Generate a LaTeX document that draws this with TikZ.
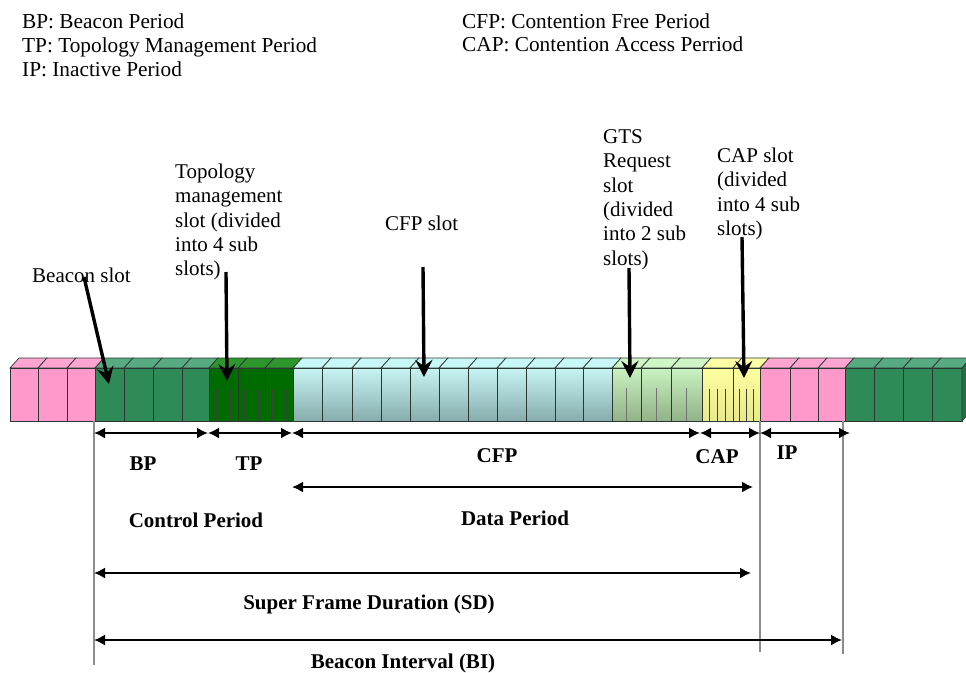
\documentclass[tikz,border=0pt]{standalone}
\usepackage{fontspec}
\setmainfont{Liberation Serif}
\usetikzlibrary{arrows.meta}
\definecolor{pinkc}{RGB}{255,153,204}
\definecolor{pinkt}{RGB}{255,165,210}
\definecolor{grnf}{RGB}{46,139,87}
\definecolor{grnt}{RGB}{88,170,128}
\definecolor{dgf}{RGB}{0,108,0}
\definecolor{dgt}{RGB}{45,150,45}
\definecolor{cyt}{RGB}{200,248,248}
\definecolor{cyA}{RGB}{200,244,244}
\definecolor{cyB}{RGB}{135,172,172}
\definecolor{gtA}{RGB}{202,242,192}
\definecolor{gtB}{RGB}{145,178,135}
\definecolor{gtt}{RGB}{208,245,198}
\definecolor{ylA}{RGB}{255,255,160}
\definecolor{ylB}{RGB}{232,232,140}
\definecolor{ylt}{RGB}{255,255,165}
\definecolor{slotln}{RGB}{45,55,50}
\newcommand\slotrow[3]{%
  \foreach \a/\b in {#1} {%
    \fill[#3, draw=slotln, line width=0.7pt] (\a,368) -- (\a+9,358) -- (\b+9,358) -- (\b,368) -- cycle;
    \path[#2, draw=slotln, line width=0.7pt] (\a,368) rectangle (\b,421);
  }%
}
\begin{document}
\begin{tikzpicture}[x=1pt,y=-1pt,
  lbl/.style={font=\fontsize{21}{24.3}\selectfont, inner sep=0pt, align=left, anchor=north west},
  blbl/.style={font=\fontsize{21}{24}\selectfont\bfseries, inner sep=0pt, anchor=base},
  dimarrow/.style={{Latex[length=11pt,width=11pt]}-{Latex[length=11pt,width=11pt]}, line width=1.8pt},
  ptr/.style={-{Stealth[length=17pt,width=17pt,inset=6pt]}, line width=3.4pt},
  gline/.style={draw=black!45, line width=1.2pt},
  subln/.style={draw=black!75, line width=0.9pt}]
\useasboundingbox (0,0) rectangle (966,672);
\fill[white] (0,0) rectangle (966,672);

% legend
\node[lbl, font=\fontsize{21.3}{24}\selectfont] (legL) at (22,13.7) {BP: Beacon Period\\TP: Topology Management Period\\IP: Inactive Period};
\node[lbl, font=\fontsize{21.3}{23.2}\selectfont] (legR) at (462,13.7) {CFP: Contention Free Period\\CAP: Contention Access Perriod};

% slot bar
\slotrow{10/38,38/67,67/95}{fill=pinkc}{pinkt}
\slotrow{95/124,124/153,153/182,182/209}{fill=grnf}{grnt}
\slotrow{209/238,238/265,265/293}{fill=dgf}{dgt}
\slotrow{293/322,322/352,352/381,381/410,410/439,439/468,468/497,497/526,526/555,555/583,583/612}{top color=cyA,bottom color=cyB}{cyt}
\slotrow{612/641,641/671,671/702}{top color=gtA,bottom color=gtB}{gtt}
\slotrow{702/733,733/760}{top color=ylA,bottom color=ylB}{ylt}
\slotrow{760/790,790/818,818/845}{fill=pinkc}{pinkt}
\slotrow{845/874,874/903,903/932,932/962}{fill=grnf}{grnt}
\fill[grnf!80!black, draw=slotln, line width=0.7pt] (962,368) -- (971,358) -- (971,411) -- (962,421) -- cycle;
\draw[slotln, line width=1pt] (10,421) -- (962,421);

% sub slot lines
\foreach \a/\b in {209/238,238/265,265/293,702/733,733/760}
  \foreach \k in {1,2,3}
    \draw[subln] ({\a+\k*(\b-\a)/4},389) -- ({\a+\k*(\b-\a)/4},421);
\foreach \a/\b in {612/641,641/671,671/702}
  \draw[subln, draw=black!55] ({(\a+\b)/2},388) -- ({(\a+\b)/2},421);

% vertical guide lines
\coordinate (g1t) at (94,421);  \coordinate (g1b) at (94,665);
\coordinate (g2t) at (760,421); \coordinate (g2b) at (760,652);
\coordinate (g3t) at (843,421); \coordinate (g3b) at (843,654);
\draw[gline] (g1t) -- (g1b);
\draw[gline] (g2t) -- (g2b);
\draw[gline] (g3t) -- (g3b);

% slot labels and pointers
\node[lbl] (tml) at (175,163.7) {Topology\\management\\slot (divided\\into 4 sub\\slots)};
\node[lbl] (bsl) at (32,267.7) {Beacon slot};
\node[lbl] (cfl) at (385,215.7) {CFP slot};
\node[lbl, font=\fontsize{21}{24.4}\selectfont] (gtl) at (603,129.1) {GTS\\Request\\slot\\(divided\\into 2 sub\\slots)};
\node[lbl, font=\fontsize{21}{24.3}\selectfont] (cal) at (717,147.7) {CAP slot\\(divided\\into 4 sub\\slots)};

\coordinate (bs0) at (84,277);  \coordinate (bs1) at (109,384);
\coordinate (tm0) at (226,272); \coordinate (tm1) at (227,381);
\coordinate (cf0) at (423,267); \coordinate (cf1) at (424,377);
\coordinate (gt0) at (629,268); \coordinate (gt1) at (630,378);
\coordinate (ca0) at (742,237); \coordinate (ca1) at (744,378);
\draw[ptr] (bs0) -- (bs1);
\draw[ptr] (tm0) -- (tm1);
\draw[ptr] (cf0) -- (cf1);
\draw[ptr] (gt0) -- (gt1);
\draw[ptr] (ca0) -- (ca1);

% dimension arrows
\coordinate (d0) at (94,433);  \coordinate (d1) at (208,433);
\coordinate (d2) at (292,433); \coordinate (d3) at (700,433);
\coordinate (d4) at (760,433); \coordinate (d5) at (850,433);
\draw[dimarrow] (d0) -- (d1);
\draw[dimarrow] (d1) -- (d2);
\draw[dimarrow] (d2) -- (d3);
\draw[dimarrow] (d3) -- (d4);
\draw[dimarrow] (d4) -- (d5);
\coordinate (dp0) at (292,487); \coordinate (dp1) at (753,487);
\draw[dimarrow] (dp0) -- (dp1);
\coordinate (sd0) at (94,573); \coordinate (sd1) at (751,573);
\draw[dimarrow] (sd0) -- (sd1);
\coordinate (bi0) at (94,640); \coordinate (bi1) at (842,640);
\draw[dimarrow] (bi0) -- (bi1);

% period labels
\node[blbl] (bp) at (143,470) {BP};
\node[blbl] (tp) at (249,470) {TP};
\node[blbl] (cfp) at (497,462) {CFP};
\node[blbl] (cap) at (717,463) {CAP};
\node[blbl] (ip) at (787,459) {IP};
\node[blbl] (cp) at (196,527) {Control Period};
\node[blbl] (dpl) at (515,525) {Data Period};
\node[blbl] (sdl) at (369,609) {Super Frame Duration (SD)};
\node[blbl] (bil) at (403,668) {Beacon Interval (BI)};
\end{tikzpicture}
\end{document}
